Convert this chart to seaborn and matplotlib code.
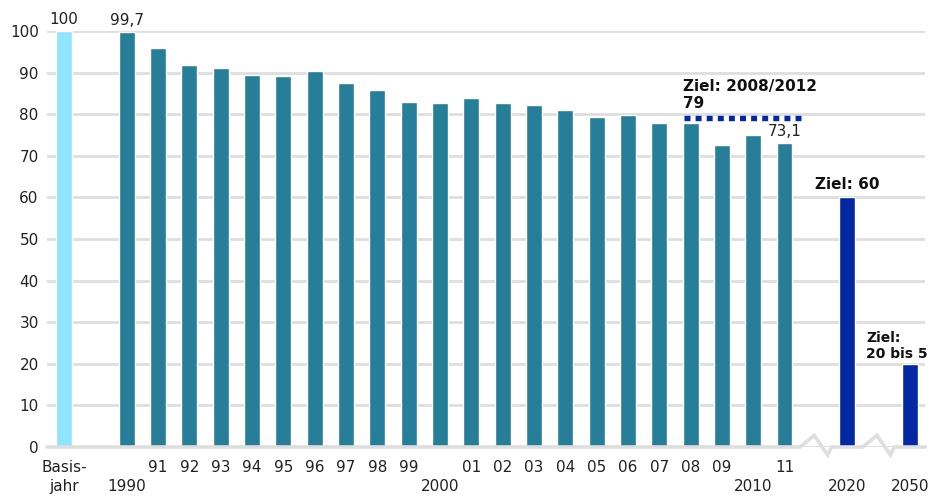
import numpy as np
import pandas as pd
import seaborn as sns
import matplotlib.pyplot as plt
from matplotlib.ticker import FixedLocator

# --- Daten (Index 1990 = Basisjahr = 100) ---
slots = ["Basis", "gap0", "1990", "1991", "1992", "1993", "1994", "1995", "1996",
         "1997", "1998", "1999", "2000", "2001", "2002", "2003", "2004", "2005",
         "2006", "2007", "2008", "2009", "2010", "2011", "gap1", "2020", "gap2", "2050"]
tick_labels = ["Basis-\njahr", "", "\n1990", "91", "92", "93", "94", "95", "96",
               "97", "98", "99", "\n2000", "01", "02", "03", "04", "05",
               "06", "07", "08", "09", "\n2010", "11", "", "\n2020", "", "\n2050"]

basis_year = ["Basis"]
basis_value = [100]
years = ["1990", "1991", "1992", "1993", "1994", "1995", "1996", "1997", "1998",
         "1999", "2000", "2001", "2002", "2003", "2004", "2005", "2006", "2007",
         "2008", "2009", "2010", "2011"]
values = [99.7, 96.0, 91.9, 91.2, 89.5, 89.3, 90.5, 87.6, 85.7,
          83.0, 82.8, 84.0, 82.6, 82.1, 81.1, 79.4, 79.7, 77.8,
          77.8, 72.7, 75.1, 73.1]
target_years = ["2020", "2050"]
target_values = [60, 20]
target_2012 = 79

df = pd.DataFrame({
    "slot": basis_year + years + target_years,
    "value": basis_value + values + target_values,
    "kind": ["basis"] + ["ist"] * len(years) + ["ziel"] * len(target_years),
})

palette = {"basis": "#8ee5fc", "ist": "#267e99", "ziel": "#0328a2"}
grid_col = "#dedede"

sns.set_style("white")
plt.rcParams["font.family"] = ["DejaVu Sans"]
plt.rcParams["font.size"] = 11

fig = plt.figure(figsize=(9.32, 4.97), dpi=100)
ax = fig.add_axes([0.0505, 0.1006, 0.9425, 0.837])

sns.barplot(data=df, x="slot", y="value", hue="kind", order=slots,
            palette=palette, dodge=False, width=0.51, legend=False,
            saturation=1, ax=ax)

ax.set_xlim(-0.54, 27.5)
ax.set_ylim(0, 100)
ax.set_yticks(range(0, 101, 10))
ax.yaxis.grid(True, color=grid_col, linewidth=2)
ax.set_axisbelow(True)
for s in ax.spines.values():
    s.set_visible(False)
ax.set_xlabel("")
ax.set_ylabel("")

# x-Achse: Beschriftung mittig, Striche zwischen den Balken
ax.set_xticks(range(len(slots)))
ax.set_xticklabels(tick_labels, linespacing=1.4)
ax.xaxis.set_minor_locator(FixedLocator(np.arange(-0.5, len(slots), 1.0)))
ax.tick_params(axis="x", which="major", length=0, pad=9, colors="#222222")
ax.tick_params(axis="x", which="minor", length=7, width=2.2, color=grid_col)
ax.tick_params(axis="y", length=0, pad=6, colors="#222222")

# Achsenlinie mit Bruchstellen
i1, i2 = slots.index("gap1"), slots.index("gap2")
bx = [-0.54, i1 - 0.5, i1 - 0.05, i1 + 0.38, i1 + 0.5,
      i2 - 0.5, i2 - 0.05, i2 + 0.38, i2 + 0.5, 27.5]
by = [0, 0, 2.8, -1.9, 0, 0, 2.8, -1.9, 0, 0]
ax.plot(bx, by, color=grid_col, linewidth=2.6, clip_on=False, zorder=1,
        solid_joinstyle="miter")

# Werte-Beschriftungen
def fmt(v):
    return f"{v:g}".replace(".", ",")

for name in ["Basis", "1990", "2011"]:
    v = df.loc[df.slot == name, "value"].iloc[0]
    ax.annotate(fmt(v), (slots.index(name), v), xytext=(0, 3),
                textcoords="offset points", ha="center", va="bottom",
                color="#222222", annotation_clip=False)

# Ziel 2008/2012
x0 = slots.index("2008") - 0.22
x1 = slots.index("2011") + 0.6
ax.plot([x0, x1], [target_2012, target_2012], color=palette["ziel"],
        linewidth=3.9, linestyle=(0, (1.1, 0.95)), solid_capstyle="butt",
        dash_capstyle="butt", zorder=3)
ax.annotate(f"Ziel: 2008/2012\n{target_2012}", (x0 - 0.03, target_2012),
            xytext=(0, 5), textcoords="offset points", ha="left", va="bottom",
            fontweight="bold", color="#111111", linespacing=1.2)

ax.annotate(f"Ziel: {target_values[0]}", (slots.index("2020"), target_values[0]),
            xytext=(0, 4), textcoords="offset points", ha="center", va="bottom",
            fontweight="bold", color="#111111")
ax.annotate(f"Ziel:\n{target_values[1]} bis 5", (slots.index("2050") - 1.4, target_values[1]),
            xytext=(0, 2), textcoords="offset points", ha="left", va="bottom",
            fontweight="bold", color="#111111", linespacing=1.2, fontsize=10,
            annotation_clip=False)

fig.savefig("out.png", dpi=100)
